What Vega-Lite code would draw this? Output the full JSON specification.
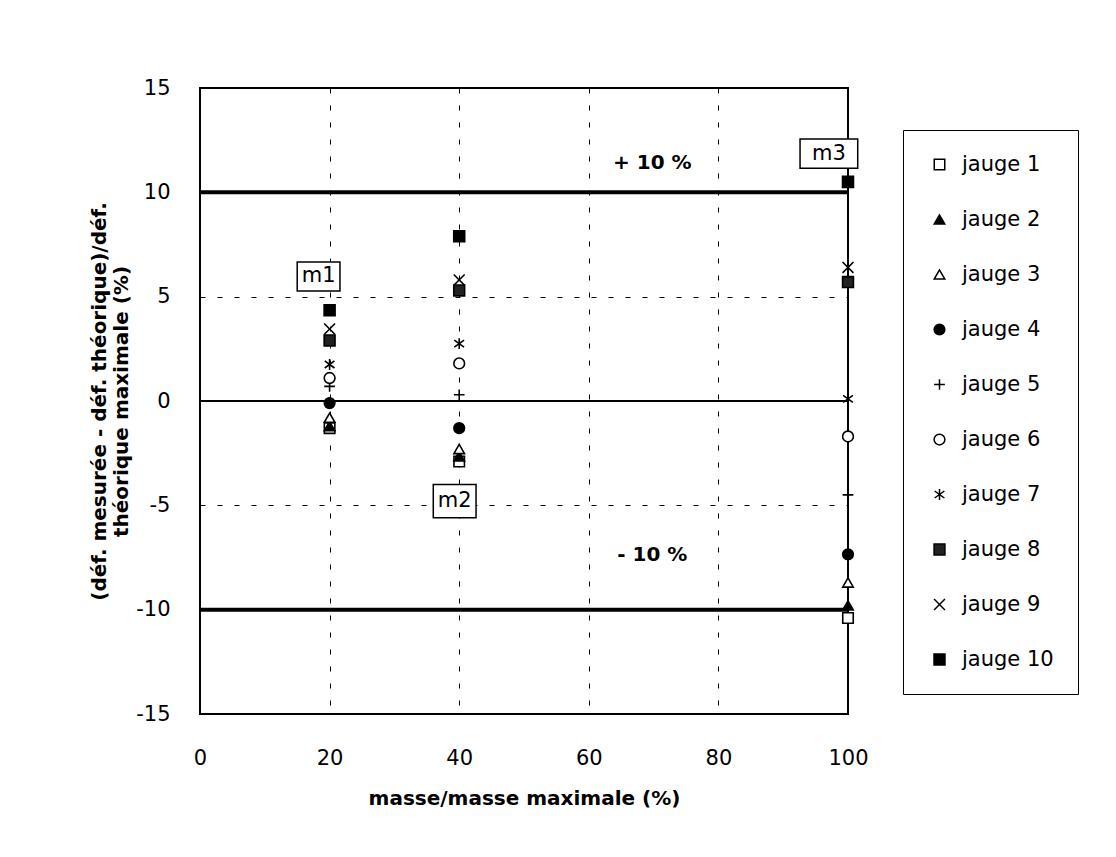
{
  "$schema": "https://vega.github.io/schema/vega-lite/v6.json",
  "width": 648,
  "height": 626,
  "padding": {"left": 89, "top": 77, "right": 5, "bottom": 5},
  "background": "white",
  "config": {
    "font": "DejaVu Sans",
    "view": {"stroke": "black", "strokeWidth": 2},
    "axis": {
      "gridColor": "black", "gridDash": [5, 12], "gridWidth": 1, "gridOpacity": 1,
      "domain": false, "ticks": false, "labelFlush": false,
      "labelFontSize": 21, "labelColor": "black",
      "titleFontSize": 20, "titleFontWeight": "bold", "titleColor": "black"
    },
    "legend": {
      "symbolStrokeColor": "black", "symbolStrokeWidth": 1.5
    }
  },
  "datasets": {
    "pts": [
      {"masse": 20, "v": -1.3, "jauge": "jauge 1"},
      {"masse": 20, "v": -1.2, "jauge": "jauge 2"},
      {"masse": 20, "v": -0.8, "jauge": "jauge 3"},
      {"masse": 20, "v": -0.1, "jauge": "jauge 4"},
      {"masse": 20, "v": 0.7, "jauge": "jauge 5"},
      {"masse": 20, "v": 1.1, "jauge": "jauge 6"},
      {"masse": 20, "v": 1.75, "jauge": "jauge 7"},
      {"masse": 20, "v": 2.9, "jauge": "jauge 8"},
      {"masse": 20, "v": 3.45, "jauge": "jauge 9"},
      {"masse": 20, "v": 4.35, "jauge": "jauge 10"},
      {"masse": 40, "v": -2.9, "jauge": "jauge 1"},
      {"masse": 40, "v": -2.65, "jauge": "jauge 2"},
      {"masse": 40, "v": -2.3, "jauge": "jauge 3"},
      {"masse": 40, "v": -1.3, "jauge": "jauge 4"},
      {"masse": 40, "v": 0.3, "jauge": "jauge 5"},
      {"masse": 40, "v": 1.8, "jauge": "jauge 6"},
      {"masse": 40, "v": 2.75, "jauge": "jauge 7"},
      {"masse": 40, "v": 5.3, "jauge": "jauge 8"},
      {"masse": 40, "v": 5.8, "jauge": "jauge 9"},
      {"masse": 40, "v": 7.9, "jauge": "jauge 10"},
      {"masse": 100, "v": -10.4, "jauge": "jauge 1"},
      {"masse": 100, "v": -9.8, "jauge": "jauge 2"},
      {"masse": 100, "v": -8.7, "jauge": "jauge 3"},
      {"masse": 100, "v": -7.35, "jauge": "jauge 4"},
      {"masse": 100, "v": -4.5, "jauge": "jauge 5"},
      {"masse": 100, "v": -1.7, "jauge": "jauge 6"},
      {"masse": 100, "v": 0.1, "jauge": "jauge 7"},
      {"masse": 100, "v": 5.7, "jauge": "jauge 8"},
      {"masse": 100, "v": 6.4, "jauge": "jauge 9"},
      {"masse": 100, "v": 10.5, "jauge": "jauge 10"}
    ],
    "limits": [
      {"y": 10, "w": "thick"},
      {"y": -10, "w": "thick"},
      {"y": 0, "w": "thin"}
    ],
    "boxes": [
      {"label": "m1", "x1": 15.0, "x2": 21.6, "y1": 5.27, "y2": 6.66, "tx": 18.3, "ty": 5.97},
      {"label": "m2", "x1": 36.0, "x2": 42.6, "y1": -5.6, "y2": -4.0, "tx": 39.3, "ty": -4.8},
      {"label": "m3", "x1": 92.6, "x2": 101.5, "y1": 11.16, "y2": 12.55, "tx": 97.05, "ty": 11.85}
    ],
    "notes": [
      {"label": "+ 10 %", "x": 69.8, "y": 11.4},
      {"label": "- 10 %", "x": 69.8, "y": -7.4}
    ]
  },
  "layer": [
    {
      "data": {"name": "limits"},
      "mark": {"type": "rule", "color": "black"},
      "encoding": {
        "y": {
          "field": "y", "type": "quantitative",
          "scale": {"domain": [-15, 15], "nice": false},
          "axis": {
            "values": [-15, -10, -5, 0, 5, 10, 15],
            "labelExpr": "replace(datum.label, '−', '-')",
            "labelPadding": 30, "titlePadding": 4,
            "title": ["(déf. mesurée - déf. théorique)/déf.", "théorique maximale (%)"]
          }
        },
        "strokeWidth": {
          "field": "w", "type": "nominal",
          "scale": {"domain": ["thick", "thin"], "range": [4, 2]},
          "legend": null
        }
      }
    },
    {
      "data": {"name": "boxes"},
      "mark": {"type": "rect", "fill": "white", "stroke": "black", "strokeWidth": 1.5},
      "encoding": {
        "x": {"field": "x1", "type": "quantitative"},
        "x2": {"field": "x2"},
        "y": {"field": "y1", "type": "quantitative"},
        "y2": {"field": "y2"}
      }
    },
    {
      "data": {"name": "boxes"},
      "mark": {"type": "text", "fontSize": 21, "color": "black", "baseline": "middle"},
      "encoding": {
        "x": {"field": "tx", "type": "quantitative"},
        "y": {"field": "ty", "type": "quantitative"},
        "text": {"field": "label"}
      }
    },
    {
      "data": {"name": "notes"},
      "mark": {"type": "text", "fontSize": 20, "fontWeight": "bold", "color": "black", "baseline": "middle"},
      "encoding": {
        "x": {"field": "x", "type": "quantitative"},
        "y": {"field": "y", "type": "quantitative"},
        "text": {"field": "label"}
      }
    },
    {
      "data": {"name": "pts"},
      "mark": {"type": "point", "strokeWidth": 1.6, "opacity": 1},
      "encoding": {
        "x": {
          "field": "masse", "type": "quantitative",
          "scale": {"domain": [0, 100], "nice": false},
          "axis": {
            "values": [0, 20, 40, 60, 80, 100],
            "labelPadding": 33, "titlePadding": 20,
            "title": "masse/masse maximale (%)"
          }
        },
        "y": {"field": "v", "type": "quantitative"},
        "shape": {
          "field": "jauge", "type": "nominal",
          "scale": {
            "domain": ["jauge 1", "jauge 2", "jauge 3", "jauge 4", "jauge 5", "jauge 6", "jauge 7", "jauge 8", "jauge 9", "jauge 10"],
            "range": ["square", "triangle-up", "triangle-up", "circle", "M-1,0L1,0M0,-1L0,1", "circle", "M0,-1L0,1M-0.9,-0.65L0.9,0.65M-0.9,0.65L0.9,-0.65", "square", "M-1,-1L1,1M-1,1L1,-1", "square"]
          },
          "legend": {
            "orient": "none", "legendX": 703, "legendY": 42,
            "title": null, "strokeColor": "black",
            "padding": 24, "rowPadding": 33, "symbolOffset": 2, "labelOffset": 12,
            "labelFontSize": 21, "labelColor": "black"
          }
        },
        "fill": {
          "field": "jauge", "type": "nominal",
          "scale": {
            "domain": ["jauge 1", "jauge 2", "jauge 3", "jauge 4", "jauge 5", "jauge 6", "jauge 7", "jauge 8", "jauge 9", "jauge 10"],
            "range": ["white", "black", "white", "black", "black", "white", "black", "#222222", "black", "black"]
          }
        },
        "stroke": {
          "field": "jauge", "type": "nominal",
          "scale": {
            "domain": ["jauge 1", "jauge 2", "jauge 3", "jauge 4", "jauge 5", "jauge 6", "jauge 7", "jauge 8", "jauge 9", "jauge 10"],
            "range": ["black", "black", "black", "black", "black", "black", "black", "black", "black", "black"]
          }
        },
        "size": {
          "field": "jauge", "type": "nominal",
          "scale": {
            "domain": ["jauge 1", "jauge 2", "jauge 3", "jauge 4", "jauge 5", "jauge 6", "jauge 7", "jauge 8", "jauge 9", "jauge 10"],
            "range": [110, 120, 120, 130, 200, 110, 250, 60, 260, 160]
          }
        }
      }
    }
  ]
}
